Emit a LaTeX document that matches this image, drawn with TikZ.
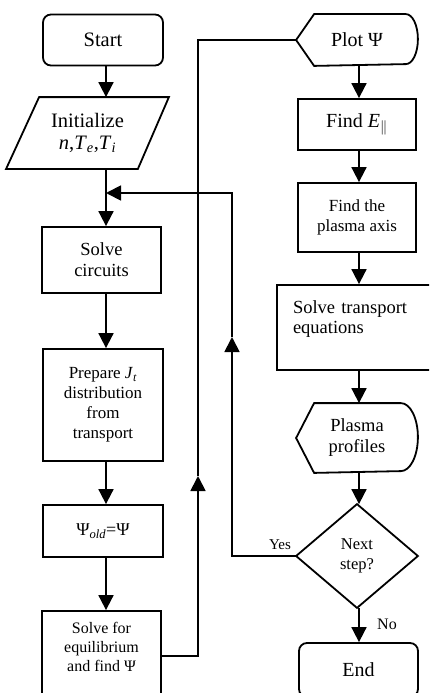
\documentclass[tikz,border=0pt]{standalone}
\usepackage{fontspec}
\setmainfont{Liberation Serif}
\usetikzlibrary{arrows.meta}
\newcommand\fsz[2]{\fontsize{#1}{#2}\selectfont}
\begin{document}
\begin{tikzpicture}[x=1pt,y=-1pt,line width=1.8pt,
  box/.style={draw,rectangle,align=center,inner sep=0pt},
  ghost/.style={rectangle,align=center,inner sep=0pt},
  arr/.style={-{Triangle[length=15pt,width=15pt]}}]
\useasboundingbox (0,0) rectangle (429,693);
\clip (0,0) rectangle (429,693);
\fill[white] (0,0) rectangle (429,693);
% column guides
\coordinate (lc) at (106,0);
\coordinate (rc) at (359,0);
% left column
\node[box,rounded corners=8pt,minimum width=120pt,minimum height=51pt,font=\fsz{20.5}{24}] (start) at (103,40) {Start};
\node[ghost,minimum width=161pt,minimum height=70pt,font=\fsz{20.5}{22}] (init) at (87.5,133) {Initialize\\\textit{n},\textit{T}\textsubscript{\textit{e}},\textit{T}\textsubscript{\textit{i}}};
\draw ([xshift=33pt]init.north west) -- (init.north east) -- ([xshift=-31pt]init.south east) -- (init.south west) -- cycle;
\node[box,minimum width=119pt,minimum height=66pt,font=\fsz{18.5}{21}] (circ) at (101.5,260) {Solve\\circuits};
\node[box,minimum width=120pt,minimum height=112pt,font=\fsz{17}{20}] (prep) at (103,405) {Prepare \textit{J}\textsubscript{\textit{t}}\\distribution\\from\\transport};
\node[box,minimum width=120pt,minimum height=52pt,font=\fsz{18}{21}] (psi) at (103,531) {Ψ\textsubscript{\textit{old}}=Ψ};
\node[box,minimum width=119pt,minimum height=90pt,font=\fsz{16}{19}] (eq) at (101.5,656) {Solve for\\equilibrium\\and find Ψ\\ \mbox{}};
% right column
\node[ghost,minimum width=120pt,minimum height=50pt,font=\fsz{20}{22}] (plot) at (357,40) {Plot Ψ};
\draw (plot.west) -- ([xshift=18pt]plot.north west) -- ([xshift=-12pt]plot.north east)
  arc[start angle=90,end angle=-90,x radius=12pt,y radius=25pt] -- ([xshift=18pt]plot.south west) -- cycle;
\node[box,minimum width=118pt,minimum height=51pt,font=\fsz{20}{22}] (findE) at (357,124.5) {Find \textit{E}\textsubscript{$\|$}};
\node[box,minimum width=118pt,minimum height=69pt,font=\fsz{17}{20}] (axis) at (357,217.5) {Find the\\plasma axis};
\node[draw,rectangle,align=left,text width=124pt,inner xsep=16pt,inner ysep=0pt,minimum height=85pt,font=\fsz{18.5}{20.5}] (trans) at (355,327.5) {Solve transport\\equations\\ \mbox{}};
\node[ghost,minimum width=120pt,minimum height=68pt,font=\fsz{18.5}{21}] (prof) at (357,438) {Plasma\\profiles};
\draw (prof.west) -- ([xshift=18pt]prof.north west) -- ([xshift=-17pt]prof.north east)
  arc[start angle=90,end angle=-90,x radius=17pt,y radius=34pt] -- ([xshift=18pt]prof.south west) -- cycle;
\node[ghost,minimum width=120pt,minimum height=102pt,font=\fsz{16.5}{20}] (dia) at (357,556) {Next\\step?};
\draw (dia.north) -- (dia.east) -- (dia.south) -- (dia.west) -- cycle;
\node[box,rounded corners=8pt,minimum width=119pt,minimum height=54pt,font=\fsz{20}{24}] (end) at (358.5,670) {End};
% labels
\node[font=\fsz{15}{18}] (yes) at (280,545) {Yes};
\node[font=\fsz{16}{18}] (no) at (387,624) {No};
% left column arrows
\draw[arr] (start.south -| lc) -- (init.north -| lc);
\draw[arr] (init.south -| lc) -- (circ.north -| lc);
\draw[arr] (circ.south -| lc) -- (prep.north -| lc);
\draw[arr] (prep.south -| lc) -- (psi.north -| lc);
\draw[arr] (psi.south -| lc) -- (eq.north -| lc);
% right column arrows
\draw[arr] (plot.south -| rc) -- (findE.north -| rc);
\draw[arr] (findE.south -| rc) -- (axis.north -| rc);
\draw[arr] (axis.south -| rc) -- (trans.north -| rc);
\draw[arr] (trans.south -| rc) -- (prof.north -| rc);
\draw[arr] (prof.south -| rc) -- (dia.north -| rc);
\draw[arr] (dia.south -| rc) -- (end.north -| rc);
% loops
\coordinate (up1) at (198,476);
\coordinate (up2) at (232,337);
\coordinate (j1) at (106,193);
\draw[arr] (eq.east) -| (up1);
\draw (up1) |- (plot.west);
\draw[arr] (dia.west) -| (up2);
\draw[arr] (up2) |- (j1);
\end{tikzpicture}
\end{document}
